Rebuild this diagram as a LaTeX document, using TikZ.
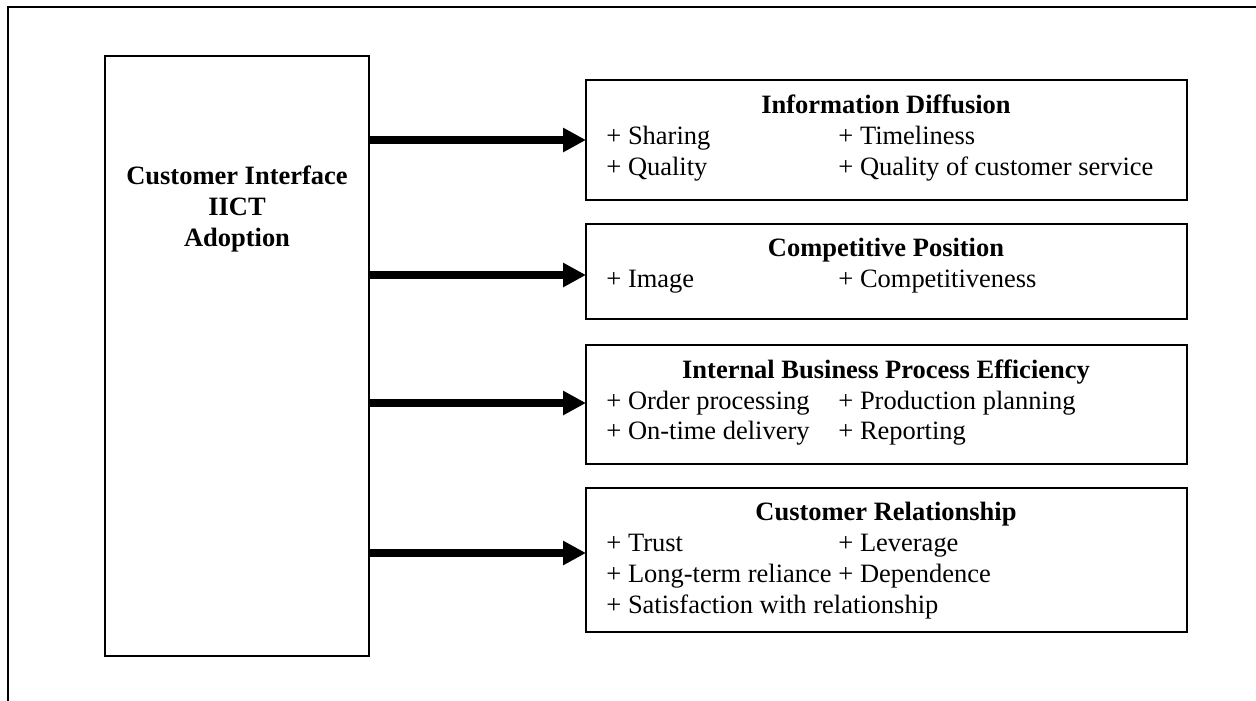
\documentclass[tikz,border=0pt]{standalone}
\usepackage{fontspec}
\setmainfont{Liberation Serif}
\usetikzlibrary{arrows.meta,fit}
\begin{document}
\begin{tikzpicture}[x=0.015924cm,y=-0.015924cm,
  box/.style={draw, line width=0.8pt, inner sep=0pt},
  ttl/.style={font=\fontsize{12}{13.8}\selectfont\bfseries, anchor=base, inner sep=0pt},
  itm/.style={font=\fontsize{12}{13.8}\selectfont, anchor=base west, inner sep=0pt},
  arr/.style={line width=3.6pt, -{Triangle[length=10.4pt,width=10.4pt]}}]
\useasboundingbox (0,0) rectangle (1256,700);
\fill[white] (0,0) rectangle (1256,700);
\draw[line width=1pt] (8,710) -- (8,7) -- (1266,7);

% left box
\node[box, fit={(105,56)(369,656)}] (L) {};
\node[ttl] (L1) at (237,184) {Customer Interface};
\node[ttl] (L2) at (237,215) {IICT};
\node[ttl] (L3) at (237,246) {Adoption};

% right boxes
\node[box, fit={(586,80)(1187,200)}] (B1) {};
\node[box, fit={(586,224)(1187,319)}] (B2) {};
\node[box, fit={(586,345)(1187,464)}] (B3) {};
\node[box, fit={(586,488)(1187,632)}] (B4) {};

\node[ttl] (T1) at (886,113) {Information Diffusion};
\node[itm] (i11) at (606,144) {+ Sharing};
\node[itm] (i12) at (838,144) {+ Timeliness};
\node[itm] (i13) at (606,175) {+ Quality};
\node[itm] (i14) at (838,175) {+ Quality of customer service};

\node[ttl] (T2) at (886,256) {Competitive Position};
\node[itm] (i21) at (606,287) {+ Image};
\node[itm] (i22) at (838,287) {+ Competitiveness};

\node[ttl] (T3) at (886,378) {Internal Business Process Efficiency};
\node[itm] (i31) at (606,409) {+ Order processing};
\node[itm] (i32) at (838,409) {+ Production planning};
\node[itm] (i33) at (606,439) {+ On-time delivery};
\node[itm] (i34) at (838,439) {+ Reporting};

\node[ttl] (T4) at (886,520) {Customer Relationship};
\node[itm] (i41) at (606,551) {+ Trust};
\node[itm] (i42) at (838,551) {+ Leverage};
\node[itm] (i43) at (606,582) {+ Long-term reliance};
\node[itm] (i44) at (838,582) {+ Dependence};
\node[itm] (i45) at (606,613) {+ Satisfaction with relationship};

% arrows
\coordinate (a1) at (586,140);
\coordinate (a2) at (586,275);
\coordinate (a3) at (586,403);
\coordinate (a4) at (586,553);
\draw[arr] (L.east |- a1) -- (a1);
\draw[arr] (L.east |- a2) -- (a2);
\draw[arr] (L.east |- a3) -- (a3);
\draw[arr] (L.east |- a4) -- (a4);
\end{tikzpicture}
\end{document}
